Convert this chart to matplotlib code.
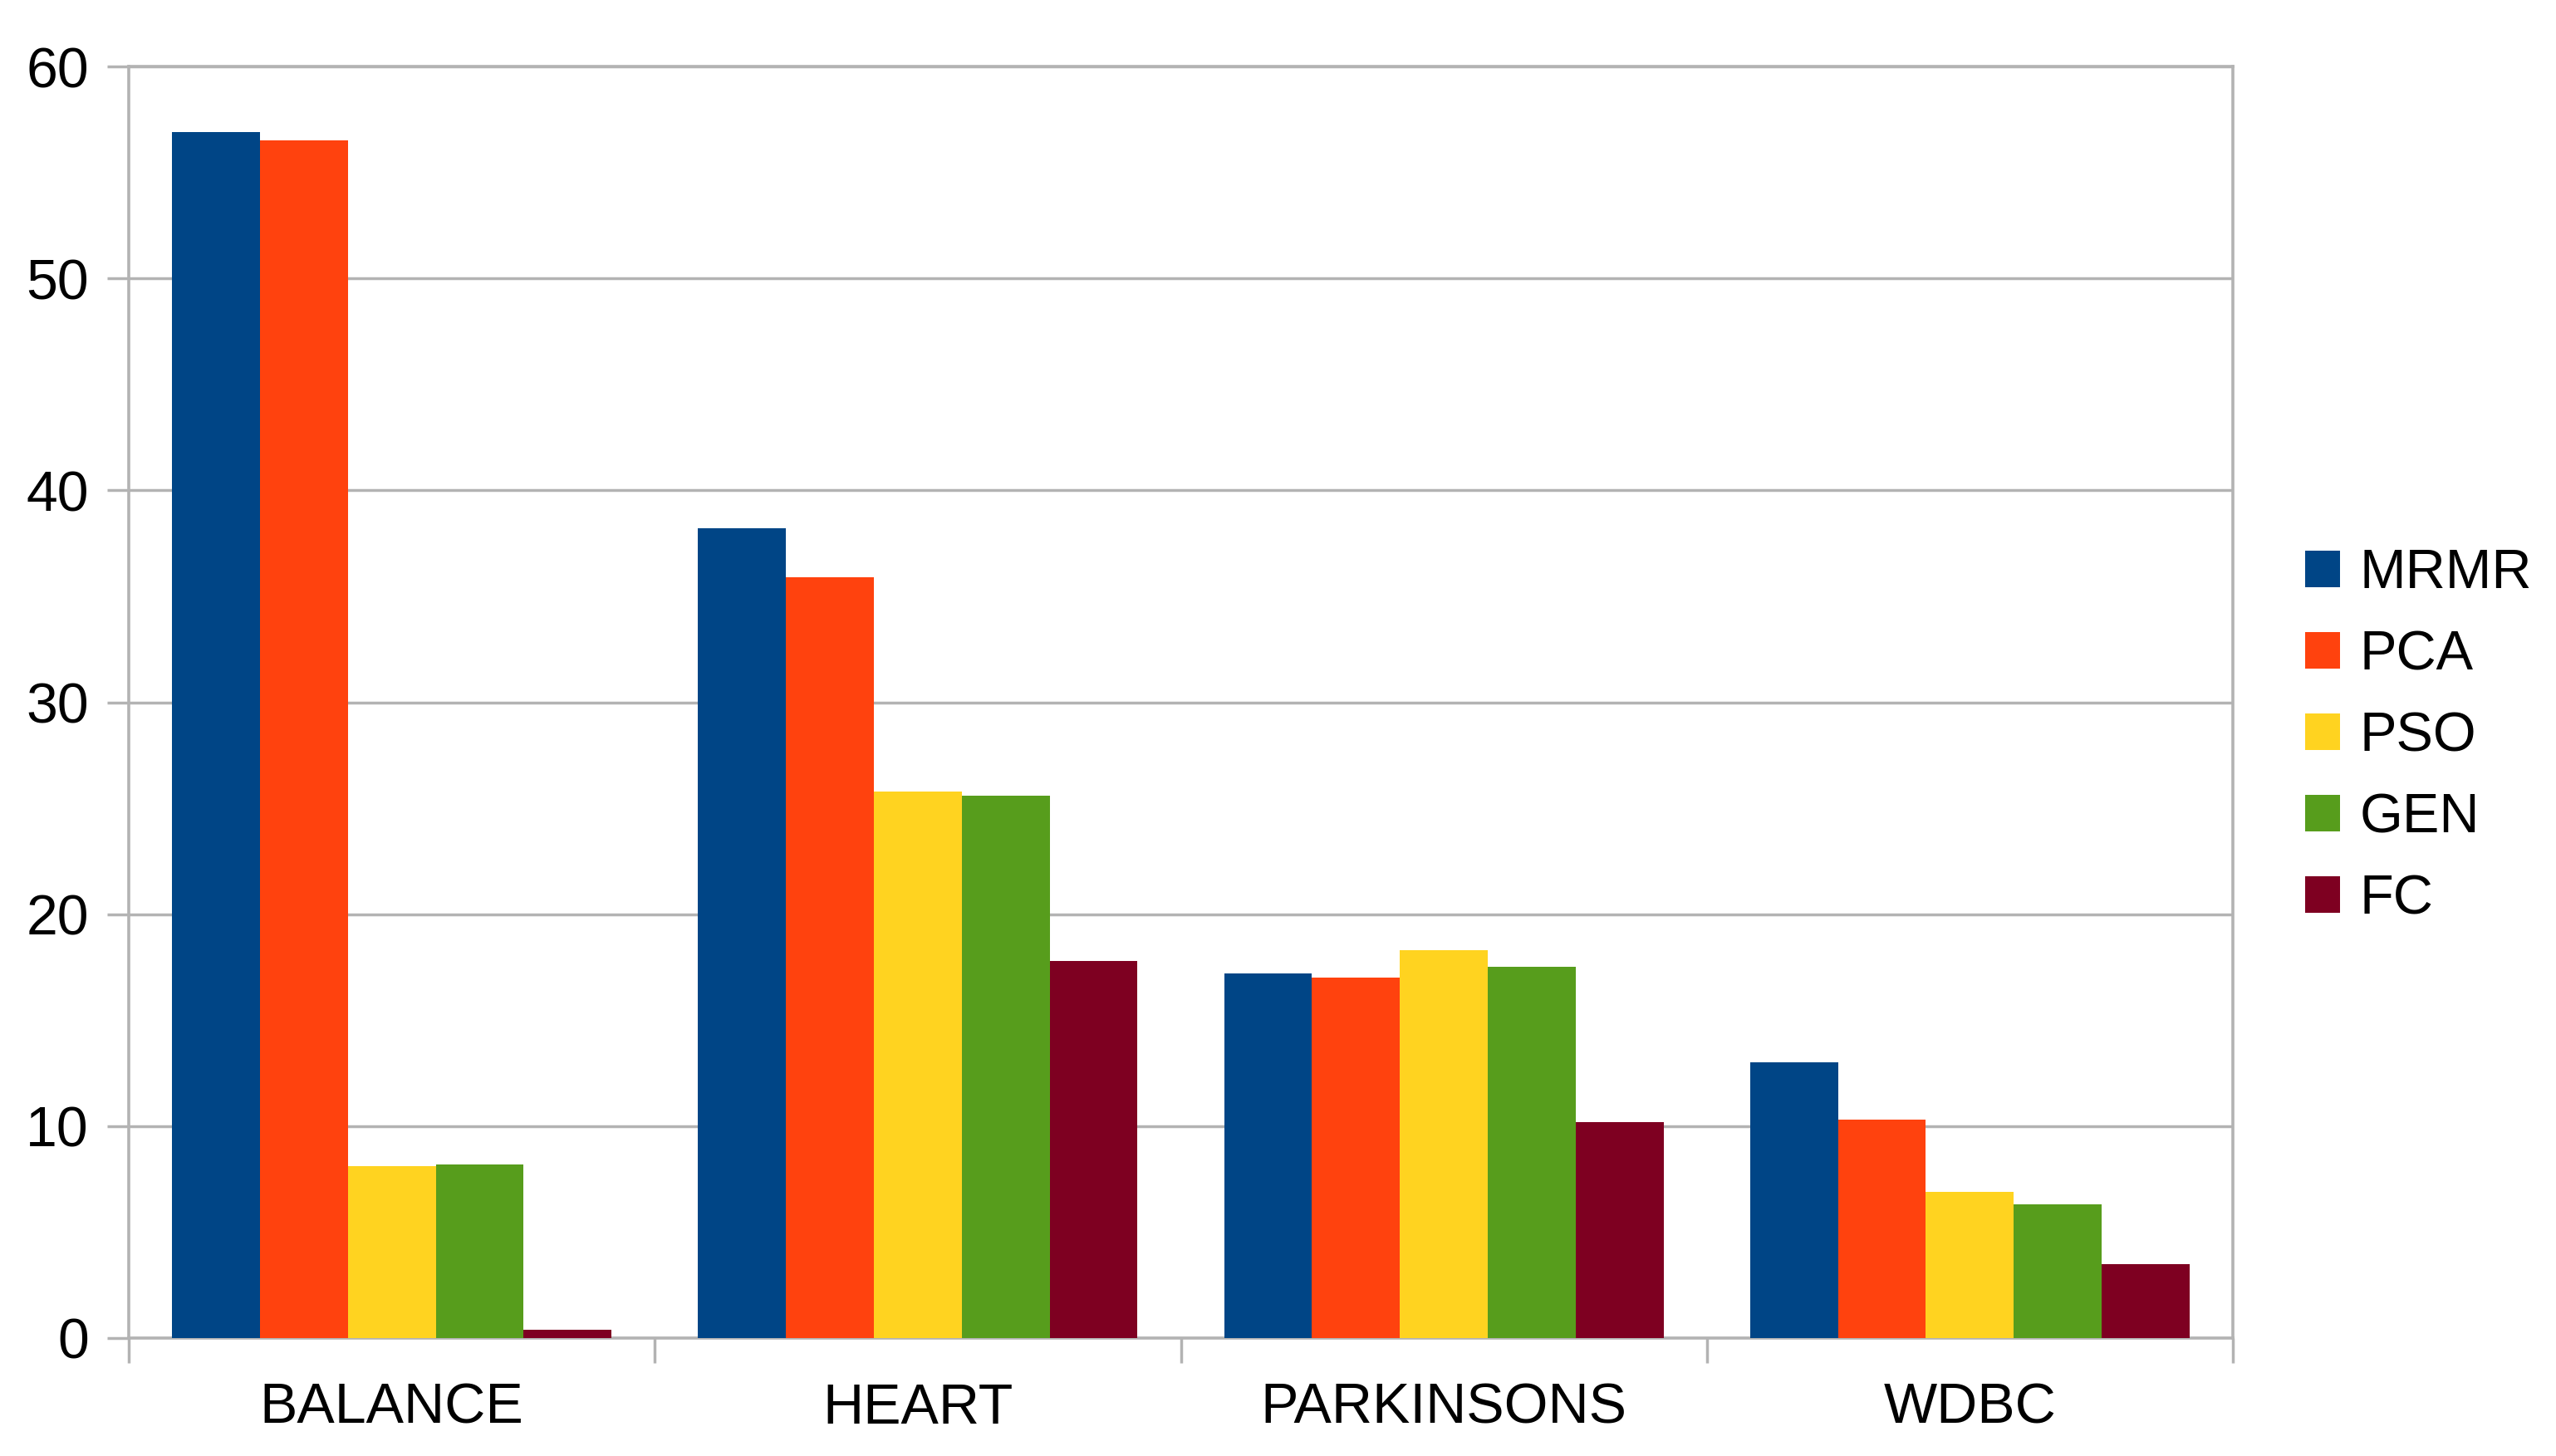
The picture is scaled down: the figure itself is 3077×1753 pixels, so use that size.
import numpy as np
import matplotlib
matplotlib.use('Agg')
import matplotlib.pyplot as plt

plt.rcParams['font.family'] = ['Liberation Sans', 'DejaVu Sans']

datasets = ['BALANCE', 'HEART', 'PARKINSONS', 'WDBC']
methods = ['MRMR', 'PCA', 'PSO', 'GEN', 'FC']
mrmr = [56.9, 38.2, 17.2, 13.0]
pca = [56.5, 35.9, 17.0, 10.3]
pso = [8.1, 25.8, 18.3, 6.9]
gen = [8.2, 25.6, 17.5, 6.3]
fc = [0.4, 17.8, 10.2, 3.5]
colors = ['#004586', '#ff420e', '#ffd320', '#579d1c', '#7e0021']

grey = '#b3b3b3'
W, H = 3077, 1753
fig = plt.figure(figsize=(W / 100, H / 100), dpi=100)
ax = fig.add_axes([155 / W, 1 - 1611 / H, (2688 - 155) / W, (1611 - 80) / H])

x = np.arange(len(datasets))
bw = 0.167
series = [mrmr, pca, pso, gen, fc]
for i, (vals, name, c) in enumerate(zip(series, methods, colors)):
    ax.bar(x + (i - 2) * bw, vals, bw, color=c, label=name, zorder=3)

ax.set_xlim(-0.5, len(datasets) - 0.5)
ax.set_ylim(0, 60)
ax.set_yticks(range(0, 61, 10))
ax.set_xticks(x)
ax.set_xticklabels(datasets)
ax.set_xticks(np.arange(-0.5, len(datasets), 1), minor=True)

ax.yaxis.grid(True, color=grey, lw=2.5, zorder=0)
ax.set_axisbelow(True)
for s in ax.spines.values():
    s.set_color(grey)
    s.set_linewidth(2.6)

ax.tick_params(axis='y', labelsize=49, length=18.7, width=2.5, color=grey, pad=16)
ax.tick_params(axis='x', which='major', labelsize=49, length=0, pad=38)
ax.tick_params(axis='x', which='minor', length=21.6, width=2.5, color=grey)

fig.legend(loc='center left', bbox_to_anchor=(2775 / W, 1 - 887.5 / H),
           frameon=False, fontsize=48, handlelength=0.63, handleheight=0.63,
           handletextpad=0.36, labelspacing=0.54, borderpad=0, borderaxespad=0)

fig.savefig('out.png', dpi=100, facecolor='white')
